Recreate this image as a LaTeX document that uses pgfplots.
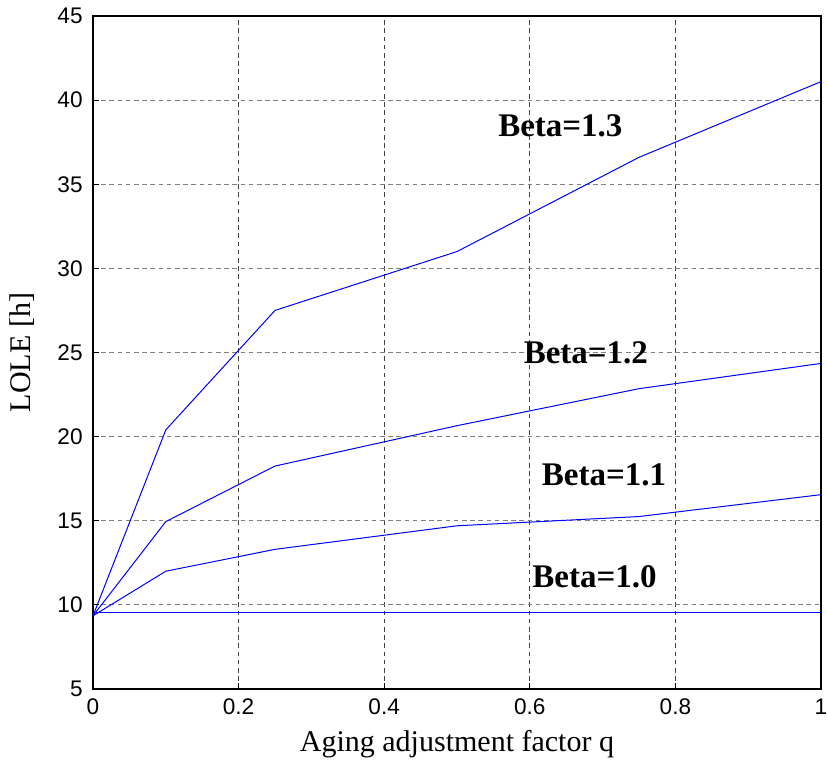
\documentclass[border=0pt]{standalone}
\usepackage{fontspec}
\setmainfont{Liberation Serif}
\newfontfamily\arial{Liberation Sans}
\usepackage{pgfplots}
\pgfplotsset{compat=1.18}
\begin{document}
\begin{tikzpicture}
\begin{axis}[
  scale only axis,
  width=364pt, height=336.5pt,
  xmin=0, xmax=1, ymin=5, ymax=45,
  xtick={0,0.2,0.4,0.6,0.8,1},
  xticklabels={0,0.2,0.4,0.6,0.8,1},
  ytick={5,10,...,45},
  tick label style={font=\arial\fontsize{11.3}{13}\selectfont, inner sep=0pt},
  yticklabel style={anchor=east, xshift=-5pt},
  xticklabel style={anchor=north, yshift=-4.8pt},
  /pgf/number format/assume math mode=true,
  xlabel={Aging adjustment factor q},
  ylabel={LOLE [h]},
  label style={font=\fontsize{15}{17}\selectfont},
  xlabel style={at={(axis description cs:0.5,-0.0817)}, anchor=center},
  ylabel style={at={(axis description cs:-0.0975,0.5)}, anchor=center, rotate=0},
  xmajorgrids, ymajorgrids,
  x grid style={black!75, dash pattern=on 2.3pt off 1.8pt, line width=0.4pt},
  y grid style={black!50, dash pattern=on 2.3pt off 1.8pt, line width=0.5pt},
  axis line style={black, line width=0.6pt},
  tick style={black, line width=0.5pt},
  major tick length=3pt,
  tick align=inside,
  xtick pos=bottom, ytick pos=left,
  clip=false,
]
\addplot[blue, line width=0.5pt] coordinates {(0,9.55)(0.1,9.55)(0.25,9.55)(0.5,9.55)(0.75,9.55)(1,9.55)};
\addplot[blue, line width=0.5pt] coordinates {(0,9.35)(0.1,12.0)(0.25,13.3)(0.5,14.7)(0.75,15.25)(1,16.55)};
\addplot[blue, line width=0.5pt] coordinates {(0,9.35)(0.1,14.95)(0.25,18.25)(0.5,20.65)(0.75,22.85)(1,24.35)};
\addplot[blue, line width=0.5pt] coordinates {(0,9.35)(0.1,20.4)(0.25,27.5)(0.5,31.0)(0.75,36.6)(1,41.1)};
\node[font=\bfseries\fontsize{16.5}{18}\selectfont] at (axis cs:0.642,38.5) {Beta=1.3};
\node[font=\bfseries\fontsize{16.5}{18}\selectfont] at (axis cs:0.677,25.0) {Beta=1.2};
\node[font=\bfseries\fontsize{16.5}{18}\selectfont] at (axis cs:0.702,17.7) {Beta=1.1};
\node[font=\bfseries\fontsize{16.5}{18}\selectfont] at (axis cs:0.689,11.7) {Beta=1.0};
\end{axis}
\pgfresetboundingbox
\path ([xshift=-46.5pt,yshift=-36pt]current axis.south west) rectangle ([xshift=3pt,yshift=8pt]current axis.north east);
\end{tikzpicture}
\end{document}
